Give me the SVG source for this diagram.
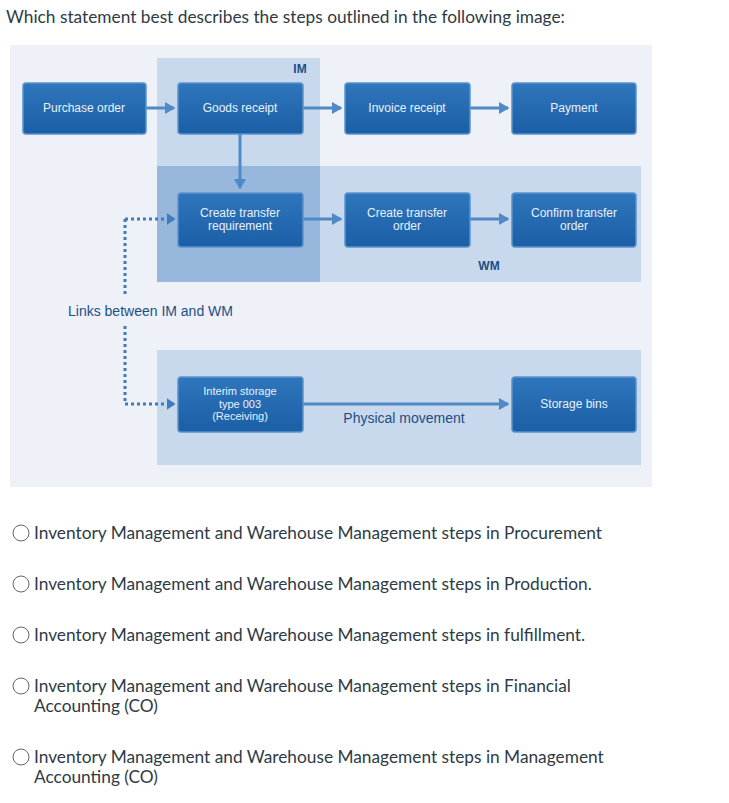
<svg xmlns="http://www.w3.org/2000/svg" width="729" height="803" viewBox="0 0 729 803">
<style>
.q{font-family:Lato,"Liberation Sans",sans-serif;font-size:17.3px;fill:#2d3b45}
.bx{fill:url(#g);stroke:#5b93cc;stroke-width:1.5}
.bt{font-family:"Liberation Sans",Arial,sans-serif;font-size:12px;fill:#e8f1fb;text-anchor:middle}
.bs{font-family:"Liberation Sans",Arial,sans-serif;font-size:11px;fill:#e8f1fb;text-anchor:middle}
.lb{font-family:"Liberation Sans",Arial,sans-serif;font-size:14px;fill:#1d4f86}
.hd{font-family:"Liberation Sans",Arial,sans-serif;font-size:12px;font-weight:bold;fill:#1d4f86}
.ar{stroke:#4f8ac6;stroke-width:3;fill:none;marker-end:url(#ah)}
.dt{stroke:#3f7bbd;stroke-width:3;stroke-dasharray:3 3;fill:none}
.rd{fill:#fff;stroke:#666;stroke-width:1}
</style>
<defs>
<linearGradient id="g" x1="0" y1="0" x2="0" y2="1"><stop offset="0" stop-color="#2f76bd"/><stop offset="1" stop-color="#1b5fa6"/></linearGradient>
<marker id="ah" markerWidth="4" markerHeight="4" refX="3" refY="2" orient="auto" markerUnits="strokeWidth"><path d="M0,0 L3.5,2 L0,4 Z" fill="#4f8ac6"/></marker>
<marker id="ad" markerWidth="4" markerHeight="4" refX="2.5" refY="2" orient="auto" markerUnits="strokeWidth"><path d="M0,0 L3,2 L0,4 Z" fill="#3f7bbd"/></marker>
</defs>
<rect width="729" height="803" fill="#fff"/>
<text class="q" x="6" y="23">Which statement best describes the steps outlined in the following image:</text>
<rect x="10" y="45" width="642" height="442" fill="#eef1f7"/>
<rect x="157" y="58" width="163" height="108" fill="#c8d9ed"/>
<rect x="157" y="166" width="484" height="116" fill="#c8d9ed"/>
<rect x="157" y="166" width="163" height="116" fill="#97b8dc"/>
<rect x="157" y="350" width="484" height="115" fill="#c8d9ed"/>
<text class="hd" x="300" y="73" text-anchor="middle">IM</text>
<text class="hd" x="489" y="270" text-anchor="middle">WM</text>
<text class="lb" x="68" y="316">Links between IM and WM</text>
<g id="connectors">
<path class="ar" d="M146,108 H174"/>
<path class="ar" d="M303,108 H341"/>
<path class="ar" d="M470,108 H508"/>
<path class="ar" d="M240,134 V188"/>
<path class="ar" d="M303,219 H341"/>
<path class="ar" d="M470,219 H508"/>
<path class="ar" d="M303,404 H508"/>
<path class="dt" d="M125,219 H174" marker-end="url(#ad)"/>
<path class="dt" d="M125,219 V296"/>
<path class="dt" d="M125,326 V404 H174" marker-end="url(#ad)"/>
<text class="lb" x="404" y="423" text-anchor="middle">Physical movement</text>
</g>
<g id="purchase"><rect class="bx" x="23" y="83" width="123" height="51" rx="3"/><text class="bt" x="84" y="112">Purchase order</text></g>
<g id="goods"><rect class="bx" x="178" y="83" width="125" height="51" rx="3"/><text class="bt" x="240" y="112">Goods receipt</text></g>
<g id="invoice"><rect class="bx" x="345" y="83" width="125" height="51" rx="3"/><text class="bt" x="407" y="112">Invoice receipt</text></g>
<g id="payment"><rect class="bx" x="512" y="83" width="124" height="51" rx="3"/><text class="bt" x="574" y="112">Payment</text></g>
<g id="ctr"><rect class="bx" x="178" y="193" width="125" height="54" rx="3"/><text class="bt" x="240" y="217">Create transfer</text><text class="bt" x="240" y="230">requirement</text></g>
<g id="cto"><rect class="bx" x="345" y="193" width="125" height="54" rx="3"/><text class="bt" x="407" y="217">Create transfer</text><text class="bt" x="407" y="230">order</text></g>
<g id="confirm"><rect class="bx" x="512" y="193" width="124" height="54" rx="3"/><text class="bt" x="574" y="217">Confirm transfer</text><text class="bt" x="574" y="230">order</text></g>
<g id="interim"><rect class="bx" x="178" y="377" width="125" height="55" rx="3"/><text class="bs" x="240" y="395">Interim storage</text><text class="bs" x="240" y="407.5">type 003</text><text class="bs" x="240" y="420">(Receiving)</text></g>
<g id="bins"><rect class="bx" x="512" y="377" width="124" height="55" rx="3"/><text class="bt" x="574" y="408">Storage bins</text></g>
<circle class="rd" cx="21" cy="533" r="8"/><text class="q" x="34" y="539">Inventory Management and Warehouse Management steps in Procurement</text>
<circle class="rd" cx="21" cy="584" r="8"/><text class="q" x="34" y="590">Inventory Management and Warehouse Management steps in Production.</text>
<circle class="rd" cx="21" cy="635" r="8"/><text class="q" x="34" y="641">Inventory Management and Warehouse Management steps in fulfillment.</text>
<circle class="rd" cx="21" cy="686" r="8"/><text class="q" x="34" y="692">Inventory Management and Warehouse Management steps in Financial</text><text class="q" x="34" y="712">Accounting (CO)</text>
<circle class="rd" cx="21" cy="757" r="8"/><text class="q" x="34" y="763">Inventory Management and Warehouse Management steps in Management</text><text class="q" x="34" y="783">Accounting (CO)</text>
</svg>
